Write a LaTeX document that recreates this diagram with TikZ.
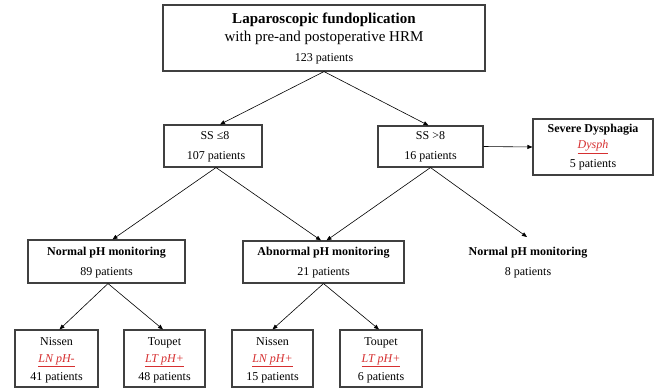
\documentclass[tikz,border=0pt]{standalone}
\usepackage{fontspec}
\setmainfont{Liberation Serif}
\usetikzlibrary{arrows.meta}
\definecolor{myred}{RGB}{214,48,49}
\begin{document}
\begin{tikzpicture}[x=1pt,y=-1pt,
  box/.style={draw=black!75, line width=1.1pt, fill=white, inner sep=0pt},
  txt/.style={inner sep=0pt, text height=0.7em, text depth=0.25em, font=\fontsize{12}{14}\selectfont},
  btxt/.style={txt, font=\fontsize{12}{14}\bfseries\selectfont},
  rtxt/.style={txt, text=myred},
  conn/.style={draw=black, line width=0.6pt, -{Triangle[length=5pt,width=4pt]}}
]
\useasboundingbox (0,0) rectangle (655,390);

% boxes
\node[box, minimum width=322pt, minimum height=66pt] (top) at (324,38) {};
\node[box, minimum width=98pt, minimum height=42pt] (ss1) at (213,146) {};
\node[box, minimum width=105pt, minimum height=41pt] (ss2) at (430.5,146.5) {};
\node[box, minimum width=120pt, minimum height=56pt] (sev) at (593,147) {};
\node[box, minimum width=157pt, minimum height=43pt] (nor) at (106.5,261.5) {};
\node[box, minimum width=161pt, minimum height=42pt] (abn) at (323.5,262) {};
\node[box, minimum width=83pt, minimum height=57pt] (b1) at (56.5,358.5) {};
\node[box, minimum width=81pt, minimum height=57pt] (b2) at (164.5,358.5) {};
\node[box, minimum width=81pt, minimum height=57pt] (b3) at (272.5,358.5) {};
\node[box, minimum width=82pt, minimum height=57pt] (b4) at (381,358.5) {};
\coordinate (n2top) at (527,237);

% texts
\node[txt, font=\fontsize{15}{18}\bfseries\selectfont] (t1) at (324,21) {Laparoscopic fundoplication};
\node[txt, font=\fontsize{15}{18}\selectfont] (t2) at (324,39.5) {with pre-and postoperative HRM};
\node[txt] (t3) at (324,59) {123 patients};

\node[txt] (s1a) at (215,137) {SS ≤8};
\node[txt] (s1b) at (216,157) {107 patients};
\node[txt] (s2a) at (430.5,137) {SS >8};
\node[txt] (s2b) at (430.5,157) {16 patients};

\node[btxt] (sva) at (593,130) {Severe Dysphagia};
\node[rtxt] (svb) at (593,146.5) {\underline{\textit{Dysph}}};
\node[txt] (svc) at (593,165) {5 patients};

\node[btxt] (na) at (106.5,253) {Normal pH monitoring};
\node[txt] (nb) at (106.5,273) {89 patients};
\node[btxt] (aa) at (323.5,253) {Abnormal pH monitoring};
\node[txt] (ab) at (323.5,273) {21 patients};
\node[btxt] (ca) at (528,253) {Normal pH monitoring};
\node[txt] (cb) at (528,273) {8 patients};

\node[txt] (b1a) at (56.5,343) {Nissen};
\node[rtxt] (b1b) at (56.5,360) {\underline{\textit{LN pH-}}};
\node[txt] (b1c) at (56.5,378) {41 patients};
\node[txt] (b2a) at (164.5,343) {Toupet};
\node[rtxt] (b2b) at (164.5,360) {\underline{\textit{LT pH+}}};
\node[txt] (b2c) at (164.5,378) {48 patients};
\node[txt] (b3a) at (272.5,343) {Nissen};
\node[rtxt] (b3b) at (272.5,360) {\underline{\textit{LN pH+}}};
\node[txt] (b3c) at (272.5,378) {15 patients};
\node[txt] (b4a) at (381,343) {Toupet};
\node[rtxt] (b4b) at (381,360) {\underline{\textit{LT pH+}}};
\node[txt] (b4c) at (381,378) {6 patients};

% connectors
\draw[conn] (top.south) -- ([xshift=7pt]ss1.north);
\draw[conn] (top.south) -- ([xshift=-2pt]ss2.north);
\draw[conn] (ss2.east) -- (sev.west);
\draw[conn] ([xshift=3pt]ss1.south) -- ([xshift=6pt]nor.north);
\draw[conn] ([xshift=3pt]ss1.south) -- ([xshift=-2.5pt]abn.north);
\draw[conn] (ss2.south) -- ([xshift=3pt]abn.north);
\draw[conn] (ss2.south) -- (n2top);
\draw[conn] ([xshift=1.5pt]nor.south) -- ([xshift=3pt]b1.north);
\draw[conn] ([xshift=1.5pt]nor.south) -- ([xshift=-1.5pt]b2.north);
\draw[conn] (abn.south) -- (b3.north);
\draw[conn] (abn.south) -- ([xshift=-2pt]b4.north);
\end{tikzpicture}
\end{document}
